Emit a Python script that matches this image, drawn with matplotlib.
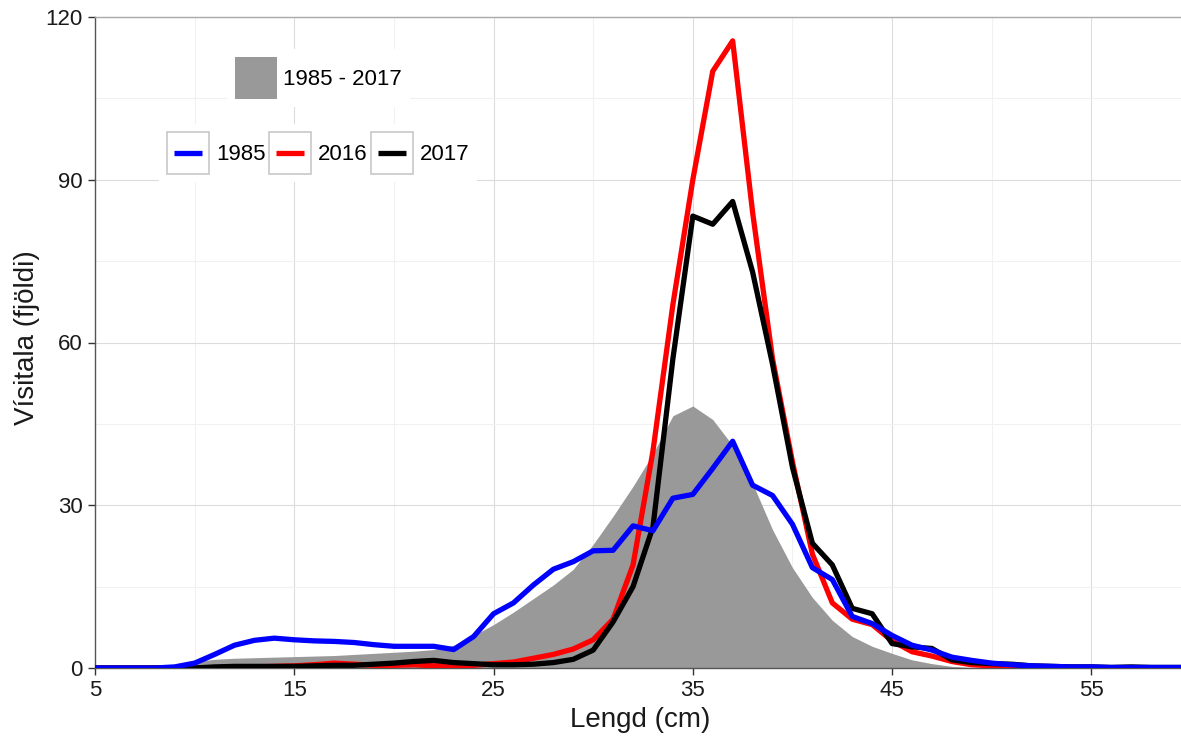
import matplotlib
matplotlib.use("Agg")
import matplotlib.pyplot as plt
from matplotlib.patches import Rectangle
from matplotlib.lines import Line2D
from matplotlib.legend_handler import HandlerBase
from matplotlib.ticker import FixedLocator

plt.rcParams['font.family'] = ['Liberation Sans', 'DejaVu Sans']

# ---- data ----
lengd = list(range(5, 61))

medal_1985_2017 = [0, 0, 0.05, 0.2, 0.6, 1.2, 1.6, 1.8, 1.9, 2.0,
                   2.1, 2.2, 2.3, 2.5, 2.7, 2.9, 3.1, 3.4, 4.2, 6.0,
                   8.0, 10.3, 12.8, 15.3, 18.2, 22.8, 28.0, 33.5, 39.5, 46.5,
                   48.3, 45.8, 41.0, 34.0, 25.5, 18.5, 13.0, 8.8, 5.8, 4.0,
                   2.7, 1.5, 0.8, 0.3, 0.1, 0, 0, 0, 0, 0,
                   0, 0, 0, 0, 0, 0]

y1985 = [0, 0, 0, 0, 0.2, 0.9, 2.5, 4.2, 5.1, 5.5,
         5.2, 5.0, 4.9, 4.7, 4.3, 4.0, 4.0, 4.0, 3.4, 5.8,
         10.0, 12.0, 15.3, 18.2, 19.6, 21.6, 21.7, 26.2, 25.3, 31.3,
         32.0, 36.8, 41.8, 33.7, 31.8, 26.5, 18.5, 16.3, 9.5, 8.2,
         6.0, 4.2, 3.3, 2.0, 1.4, 0.9, 0.6, 0.4, 0.3, 0.2,
         0.2, 0.1, 0.1, 0.1, 0.1, 0.1]

y2016 = [0, 0, 0, 0, 0, 0, 0, 0.1, 0.2, 0.3,
         0.4, 0.6, 0.9, 0.7, 0.5, 0.5, 0.6, 0.4, 0.4, 0.5,
         0.8, 1.1, 1.8, 2.5, 3.5, 5.2, 9.0, 19.0, 40.0, 67.0,
         90.0, 110.0, 115.6, 84.0, 57.0, 38.0, 21.0, 12.0, 9.0, 8.0,
         5.0, 3.0, 2.2, 1.2, 0.6, 0.4, 0.3, 0.2, 0.1, 0.1,
         0.1, 0.05, 0.05, 0.05, 0.05, 0.05]

y2017 = [0, 0, 0, 0, 0, 0, 0.2, 0.3, 0.3, 0.3,
         0.3, 0.4, 0.5, 0.5, 0.7, 0.9, 1.2, 1.4, 1.0, 0.8,
         0.6, 0.6, 0.7, 1.0, 1.6, 3.3, 8.5, 15.0, 26.0, 57.0,
         83.3, 81.8, 86.0, 73.0, 56.0, 37.0, 23.0, 19.0, 11.0, 10.0,
         4.5, 3.9, 3.6, 1.5, 1.0, 0.8, 0.7, 0.4, 0.3, 0.2,
         0.2, 0.1, 0.2, 0.1, 0.1, 0.1]

x_ticks = [5, 15, 25, 35, 45, 55]
y_ticks = [0, 30, 60, 90, 120]

W, H = 1181, 744
fig = plt.figure(figsize=(W / 100, H / 100), dpi=100)
ax = fig.add_axes([95 / W, (H - 668) / H, (1191 - 95) / W, (668 - 17) / H])

fill_col = '#999999'
lw = 3.8
ax.fill_between(lengd, 0, medal_1985_2017, color=fill_col, lw=0, zorder=2)
l16, = ax.plot(lengd, y2016, color='#ff0000', lw=lw, zorder=3)
l17, = ax.plot(lengd, y2017, color='#000000', lw=lw, zorder=4)
l85, = ax.plot(lengd, y1985, color='#0000ff', lw=lw, zorder=5)

ax.set_xlim(5, 60)
ax.set_ylim(0, 120)
ax.xaxis.set_major_locator(FixedLocator(x_ticks))
ax.yaxis.set_major_locator(FixedLocator(y_ticks))
ax.xaxis.set_minor_locator(FixedLocator([10, 20, 30, 40, 50, 60]))
ax.yaxis.set_minor_locator(FixedLocator([15, 45, 75, 105]))
ax.set_axisbelow(True)
ax.grid(which='major', color='#dcdcdc', lw=0.8)
ax.grid(which='minor', color='#f1f1f1', lw=0.8)
ax.tick_params(which='major', direction='out', length=5, width=1, color='#333333',
               labelsize=16, labelcolor='#1a1a1a')
ax.tick_params(axis='x', pad=4)
ax.tick_params(axis='y', pad=4)
ax.tick_params(which='minor', length=0)

for s in ['left', 'bottom']:
    ax.spines[s].set_color('#555555')
    ax.spines[s].set_linewidth(1.0)
ax.spines['top'].set_color('#aaaaaa')
ax.spines['top'].set_linewidth(1.0)
ax.spines['right'].set_visible(False)

ax.set_xlabel('Lengd (cm)', fontsize=20, color='#1a1a1a')
ax.set_ylabel('Vísitala (fjöldi)', fontsize=20, color='#1a1a1a')
ax.xaxis.set_label_coords((640 - 95) / 1096, (668 - 707) / 651)
ax.yaxis.set_label_coords((40 - 95) / 1096, (668 - 338) / 651)


class BoxedLine(HandlerBase):
    def create_artists(self, legend, orig_handle, xdescent, ydescent, width, height,
                       fontsize, trans):
        box = Rectangle((-xdescent, -ydescent), width, height, facecolor='white',
                        edgecolor='#c8c8c8', lw=1.2, transform=trans)
        inset = 5
        yc = -ydescent + height / 2
        ln = Line2D([-xdescent + inset, -xdescent + width - inset], [yc, yc],
                    color=orig_handle.get_color(), lw=orig_handle.get_linewidth(),
                    solid_capstyle='butt', transform=trans)
        return [box, ln]


class FullPatch(HandlerBase):
    def create_artists(self, legend, orig_handle, xdescent, ydescent, width, height,
                       fontsize, trans):
        r = Rectangle((-xdescent, -ydescent), width, height, facecolor=fill_col,
                      edgecolor='none', transform=trans)
        return [r]


fs = 16 * 100 / 72.0  # legend font size in px
hl = 42 / fs
hh = (42 / fs - 0.245) / 0.65
bp = 0.35

fill_handle = Rectangle((0, 0), 1, 1, color=fill_col)
leg1 = ax.legend([fill_handle], ['1985 - 2017'], handler_map={Rectangle: FullPatch()},
                 loc='upper left', bbox_to_anchor=((235 - bp * fs) / W, 1 - (57 - bp * fs) / H),
                 bbox_transform=fig.transFigure, fontsize=16, frameon=True, framealpha=1,
                 facecolor='white', edgecolor='none', fancybox=False, borderaxespad=0,
                 borderpad=bp, handlelength=hl, handleheight=hh, handletextpad=0.27)
leg1.set_zorder(10)
ax.add_artist(leg1)

leg2 = ax.legend([l85, l16, l17], ['1985', '2016', '2017'],
                 handler_map={Line2D: BoxedLine()}, ncol=3,
                 loc='upper left', bbox_to_anchor=((167 - bp * fs) / W, 1 - (132 - bp * fs) / H),
                 bbox_transform=fig.transFigure, fontsize=16, frameon=True, framealpha=1,
                 facecolor='white', edgecolor='none', fancybox=False, borderaxespad=0,
                 borderpad=bp, handlelength=hl, handleheight=hh, handletextpad=0.31,
                 columnspacing=0.16)
leg2.set_zorder(10)

fig.savefig('out.png', dpi=100)
